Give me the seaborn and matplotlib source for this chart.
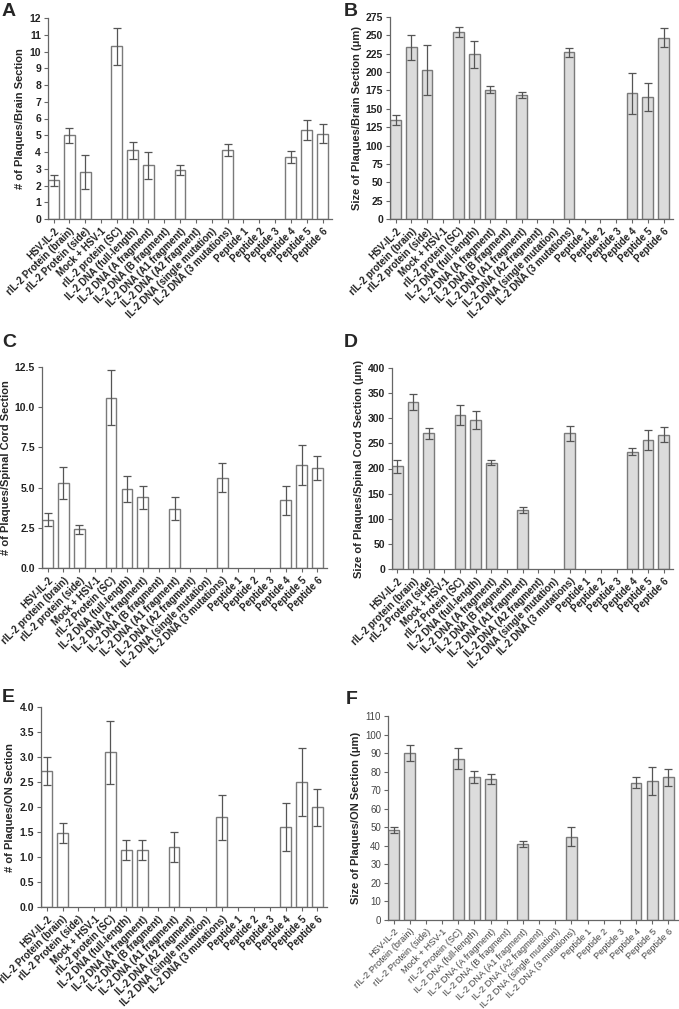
import numpy as np
import pandas as pd
import seaborn as sns
import matplotlib.pyplot as plt
from matplotlib.ticker import FormatStrFormatter

sns.set_style("ticks")
plt.rcParams['font.family'] = ['Liberation Sans', 'DejaVu Sans']

nan = np.nan

base = ["HSV-IL-2", "rIL-2 Protein (brain)", "rIL-2 Protein (side)", "Mock + HSV-1",
        "rIL-2 protein (SC)", "IL-2 DNA (full-length)", "IL-2 DNA (A fragment)",
        "IL-2 DNA (B fragment)", "IL-2 DNA (A1 fragment)", "IL-2 DNA (A2 fragment)",
        "IL-2 DNA (single mutation)", "IL-2 DNA (3 mutations)", "Peptide 1", "Peptide 2",
        "Peptide 3", "Peptide 4", "Peptide 5", "Peptide 6"]

# the three rIL-2 labels are capitalised differently in each panel
ril2_a = ["rIL-2 Protein (brain)", "rIL-2 Protein (side)", "rIL-2 protein (SC)"]
ril2_b = ["rIL-2 protein (brain)", "rIL-2 protein (side)", "rIL-2 protein (SC)"]
ril2_c = ["rIL-2 protein (brain)", "rIL-2 protein (side)", "rIL-2 Protein (SC)"]
ril2_d = ["rIL-2 protein (brain)", "rIL-2 Protein (side)", "rIL-2 Protein (SC)"]
ril2_e = ["rIL-2 Protein (brain)", "rIL-2 Protein (side)", "rIL-2 protein (SC)"]
ril2_f = ["rIL-2 Protein (brain)", "rIL-2 Protein (side)", "rIL-2 Protein (SC)"]

# A: number of plaques / brain section
a_mean = [2.3, 5.0, 2.8, nan, 10.3, 4.1, 3.2, nan, 2.9, nan, nan, 4.1, nan, nan, nan, 3.7, 5.3, 5.1]
a_err = [0.3, 0.45, 1.0, nan, 1.1, 0.5, 0.8, nan, 0.3, nan, nan, 0.35, nan, nan, nan, 0.35, 0.6, 0.55]
# B: plaque size / brain section
b_mean = [135, 234, 203, nan, 255, 224, 176, nan, 169, nan, nan, 227, nan, nan, nan, 171, 166, 247]
b_err = [7, 17, 34, nan, 7, 18, 5, nan, 4, nan, nan, 6, nan, nan, nan, 28, 19, 13]
# C: number of plaques / spinal cord section
c_mean = [3.0, 5.3, 2.4, nan, 10.6, 4.9, 4.4, nan, 3.7, nan, nan, 5.6, nan, nan, nan, 4.2, 6.4, 6.2]
c_err = [0.4, 1.0, 0.3, nan, 1.7, 0.8, 0.7, nan, 0.7, nan, nan, 0.9, nan, nan, nan, 0.9, 1.25, 0.75]
# D: plaque size / spinal cord section
d_mean = [204, 333, 270, nan, 307, 297, 211, nan, 117, nan, nan, 270, nan, nan, nan, 233, 256, 267]
d_err = [13, 16, 11, nan, 20, 18, 5, nan, 6, nan, nan, 15, nan, nan, nan, 7, 20, 15]
# E: number of plaques / ON section
e_mean = [2.73, 1.49, nan, nan, 3.1, 1.15, 1.15, nan, 1.2, nan, nan, 1.8, nan, nan, nan, 1.6, 2.5, 2.0]
e_err = [0.28, 0.2, nan, nan, 0.63, 0.2, 0.2, nan, 0.3, nan, nan, 0.45, nan, nan, nan, 0.48, 0.68, 0.37]
# F: plaque size / ON section
f_mean = [48.5, 90, nan, nan, 87, 77, 76, nan, 41, nan, nan, 45, nan, nan, nan, 74, 75, 77]
f_err = [1.5, 4.5, nan, nan, 5.5, 3.3, 2.5, nan, 1.5, nan, nan, 5, nan, nan, nan, 3, 7.5, 4.5]

panels = [
    ("A", a_mean, a_err, ril2_a, "# of Plaques/Brain Section", "white", 12, 1, "%d", [48, 18, 332, 219], (2, 3)),
    ("B", b_mean, b_err, ril2_b, "Size of Plaques/Brain Section (\u03bcm)", "#dcdcdc", 275, 25, "%d", [390, 17, 673, 219], (344, 3)),
    ("C", c_mean, c_err, ril2_c, "# of Plaques/Spinal Cord Section", "white", 12.5, 2.5, "%.1f", [42, 367, 327, 568], (2, 334)),
    ("D", d_mean, d_err, ril2_d, "Size of Plaques/Spinal Cord Section (\u03bcm)", "#dcdcdc", 400, 50, "%d", [392, 368, 673, 569], (344, 334)),
    ("E", e_mean, e_err, ril2_e, "# of Plaques/ON Section", "white", 4.0, 0.5, "%.1f", [41, 707, 327, 907], (2, 689)),
    ("F", f_mean, f_err, ril2_f, "Size of Plaques/ON Section (\u03bcm)", "#dcdcdc", 110, 10, "%d", [388, 716, 678, 920], (346, 691)),
]

W, H = 679, 1009
fig = plt.figure(figsize=(W / 100, H / 100), dpi=100)

for letter, mean, err, ril2, ylabel, fill, ymax, step, fmt, box, lpos in panels:
    x0, y0, x1, y1 = box
    ax = fig.add_axes([x0 / W, 1 - y1 / H, (x1 - x0) / W, (y1 - y0) / H])
    labels = [base[0]] + ril2[:2] + [base[3], ril2[2]] + base[5:]
    df = pd.DataFrame({"group": labels, "value": mean, "err": err})
    sns.barplot(data=df, x="group", y="value", order=labels, color=fill,
                edgecolor="#7a7a7a", linewidth=1.0, width=0.68, errorbar=None, ax=ax)
    for p in ax.patches:
        p.set_facecolor(fill)
    pos = np.arange(len(labels))
    ax.errorbar(pos, df["value"], yerr=df["err"], fmt="none", ecolor="#555555",
                elinewidth=0.9, capsize=3, capthick=0.9)
    light = letter == "F"
    ax.set_xlim(-0.35, len(labels) - 0.4)
    ax.set_ylim(0, ymax)
    ax.set_yticks(np.arange(0, ymax + step / 2, step))
    ax.yaxis.set_major_formatter(FormatStrFormatter(fmt))
    ax.set_xlabel("")
    ax.set_ylabel(ylabel, fontsize=8, fontweight="bold", labelpad=3)
    ax.set_xticks(pos)
    ax.set_xticklabels(labels, rotation=45, ha="right", rotation_mode="anchor",
                       fontsize=6.7 if light else 7, fontweight="normal" if light else "bold",
                       color="#444444" if light else "#222222")
    for t in ax.get_yticklabels():
        t.set_fontsize(7 if light else 7.5)
        t.set_fontweight("normal" if light else "bold")
        t.set_color("#444444" if light else "#222222")
    ax.tick_params(length=3, width=0.8, color="#666666", pad=2)
    sns.despine(ax=ax)
    for s in ("left", "bottom"):
        ax.spines[s].set_color("#666666")
        ax.spines[s].set_linewidth(0.9)
    fig.text(lpos[0] / W, 1 - lpos[1] / H, letter,
             fontsize=14, fontweight="bold", va="top", ha="left")

fig.savefig("out.png", dpi=100)
